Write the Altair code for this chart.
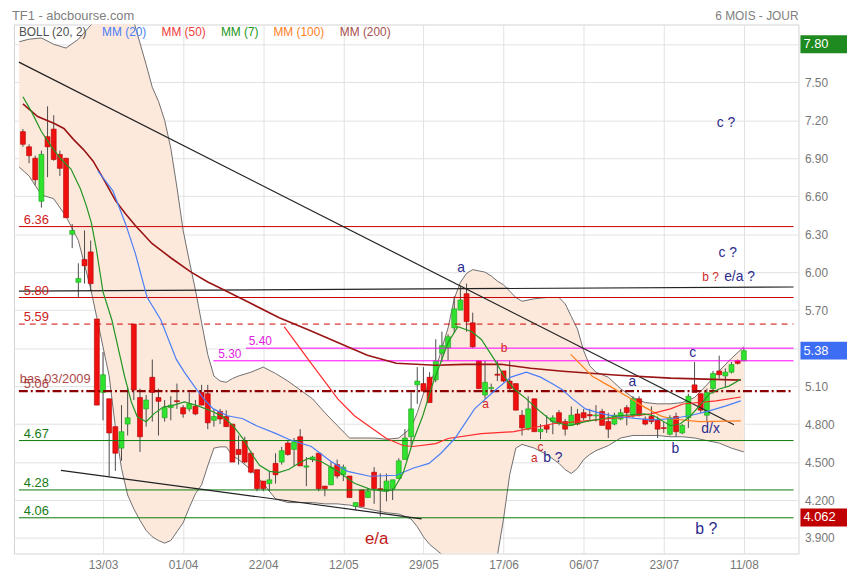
import altair as alt
import pandas as pd

FONT = "Liberation Sans"

# ---------------- data ----------------
# trading-day index: 0 = 13/03
tick_idx = [0, 13, 26, 39, 52, 65, 78, 91, 104]
tick_labels = ["13/03", "01/04", "22/04", "12/05", "29/05", "17/06", "06/07", "23/07", "11/08"]
price_ticks = [3.9, 4.2, 4.5, 4.8, 5.1, 5.4, 5.7, 6.0, 6.3, 6.6, 6.9, 7.2, 7.5, 7.8]

candle_idx = list(range(-13, 105))
opens = [7.11, 6.99, 6.90, 6.56, 7.07, 7.13, 6.93, 6.90, 6.30, 5.92, 6.10, 6.16, 5.63,
         5.05, 5.00, 4.78, 4.61, 4.80, 5.59, 5.01, 4.92, 5.17, 5.01, 4.85, 4.93, 4.985,
         4.93, 4.92, 4.94, 5.05, 5.04, 4.83, 4.90, 4.86, 4.80, 4.60, 4.67, 4.57, 4.44,
         4.35, 4.33, 4.49, 4.50, 4.65, 4.60, 4.70, 4.46, 4.52, 4.57, 4.31, 4.32, 4.48,
         4.40, 4.39, 4.15, 4.28, 4.22, 4.42, 4.29, 4.27, 4.29, 4.37, 4.52, 4.70, 5.11,
         5.12, 5.17, 5.15, 5.36, 5.40, 5.56, 5.70, 5.83, 5.60, 5.30, 5.03, 5.08, 5.194,
         5.22, 5.14, 5.12, 4.87, 4.76, 5.00, 4.74, 4.79, 4.82, 4.89, 4.82, 4.79, 4.88,
         4.89, 4.875, 4.865, 4.90, 4.82, 4.80, 4.84, 4.93, 4.87, 5.00, 4.84, 4.86, 4.83,
         4.772, 4.72, 4.86, 4.73, 4.85, 5.11, 5.04, 4.87, 5.08, 5.22, 5.18, 5.21, 5.30, 5.30]
highs = [7.13, 7.01, 6.92, 6.96, 7.31, 7.24, 6.96, 6.90, 6.38, 6.07, 6.33, 6.25, 5.63,
         5.37, 5.00, 4.78, 4.95, 5.09, 5.59, 5.08, 5.03, 5.31, 5.08, 4.99, 5.02, 5.12,
         4.95, 5.05, 4.99, 5.11, 5.11, 4.92, 4.92, 4.91, 4.80, 4.71, 4.70, 4.59, 4.44,
         4.35, 4.43, 4.57, 4.62, 4.67, 4.69, 4.76, 4.54, 4.55, 4.57, 4.31, 4.50, 4.52,
         4.48, 4.39, 4.18, 4.28, 4.29, 4.46, 4.41, 4.41, 4.36, 4.53, 4.76, 5.05, 5.25,
         5.25, 5.21, 5.47, 5.53, 5.51, 5.81, 5.89, 5.91, 5.68, 5.30, 5.30, 5.12, 5.30,
         5.22, 5.30, 5.12, 4.91, 5.02, 5.00, 4.80, 4.87, 4.87, 4.91, 4.84, 4.94, 4.92,
         4.92, 4.92, 4.95, 4.92, 4.89, 4.89, 4.92, 4.95, 5.02, 5.02, 4.86, 4.94, 4.86,
         4.82, 4.87, 4.89, 4.80, 5.04, 5.29, 5.04, 5.08, 5.22, 5.34, 5.24, 5.29, 5.31, 5.40]
lows = [6.99, 6.86, 6.69, 6.51, 6.75, 6.88, 6.76, 6.43, 6.19, 5.80, 5.91, 5.85, 4.95,
        4.83, 4.39, 4.43, 4.51, 4.71, 4.99, 4.58, 4.78, 4.82, 4.71, 4.82, 4.83, 4.92,
        4.85, 4.90, 4.87, 4.95, 4.76, 4.78, 4.80, 4.78, 4.50, 4.48, 4.49, 4.41, 4.27,
        4.27, 4.27, 4.33, 4.48, 4.55, 4.47, 4.47, 4.31, 4.50, 4.27, 4.23, 4.32, 4.37,
        4.35, 4.22, 4.12, 4.15, 4.22, 4.17, 4.07, 4.19, 4.20, 4.37, 4.52, 4.63, 4.96,
        5.05, 4.97, 5.13, 5.29, 5.30, 5.52, 5.70, 5.53, 5.40, 5.08, 5.00, 5.05, 5.14,
        5.13, 5.06, 4.91, 4.71, 4.75, 4.74, 4.68, 4.73, 4.72, 4.79, 4.71, 4.79, 4.79,
        4.83, 4.83, 4.82, 4.79, 4.69, 4.79, 4.83, 4.79, 4.85, 4.86, 4.79, 4.80, 4.69,
        4.73, 4.71, 4.70, 4.72, 4.77, 5.05, 4.89, 4.82, 5.04, 5.16, 5.09, 5.20, 5.27, 5.30]
closes = [7.01, 6.92, 6.73, 6.93, 6.99, 6.89, 6.82, 6.43, 6.33, 5.95, 6.05, 5.91, 4.95,
          5.19, 4.73, 4.57, 4.74, 4.85, 5.07, 4.70, 4.99, 5.05, 4.98, 4.93, 4.95, 4.977,
          4.88, 4.96, 4.88, 4.95, 4.81, 4.86, 4.84, 4.78, 4.50, 4.56, 4.50, 4.42, 4.29,
          4.29, 4.36, 4.40, 4.59, 4.56, 4.66, 4.47, 4.47, 4.54, 4.29, 4.29, 4.46, 4.39,
          4.46, 4.22, 4.18, 4.15, 4.27, 4.29, 4.28, 4.35, 4.36, 4.51, 4.69, 4.92, 5.14,
          5.06, 4.97, 5.30, 5.42, 5.49, 5.71, 5.78, 5.61, 5.41, 5.08, 5.13, 5.09, 5.186,
          5.14, 5.08, 4.91, 4.77, 4.92, 4.74, 4.76, 4.76, 4.85, 4.81, 4.76, 4.87, 4.80,
          4.85, 4.865, 4.872, 4.79, 4.76, 4.87, 4.89, 4.89, 5.00, 4.87, 4.80, 4.82, 4.76,
          4.765, 4.85, 4.74, 4.79, 5.02, 5.05, 4.91, 5.05, 5.20, 5.19, 5.21, 5.27, 5.28, 5.38]

# Bollinger bands (20, 2)
band_idx = [-13.6, -12, -10, -8, -6, -4, -2, -1,
            0, 1, 2, 3, 4, 5, 6, 7, 8, 9, 10, 11, 12, 13, 14, 15, 16, 17, 18, 19, 20, 21, 22,
            24, 26, 28, 30, 32, 34, 36, 38, 40, 42, 44, 46, 48, 50,
            51, 52, 53, 54, 55, 56, 57, 58, 59, 60,
            62, 63, 64, 65, 66, 67, 68,
            70, 72, 74, 75, 76, 77, 78, 79, 80,
            82, 84, 86, 88, 90, 92, 94, 96, 98, 100, 102, 104]
band_upper = [7.82, 7.84, 7.85, 7.80, 7.77, 7.84, 7.95, 8.00,
              8.05, 8.08, 8.10, 8.12, 8.08, 7.98, 7.81, 7.64, 7.46, 7.35, 7.20, 6.98, 6.67, 6.33,
              6.09, 5.86, 5.60, 5.35, 5.18, 5.14, 5.13, 5.16, 5.18,
              5.21, 5.25, 5.20, 5.14, 5.07, 5.00, 4.89, 4.79, 4.69, 4.69, 4.69, 4.68, 4.69, 4.77,
              4.89, 5.04, 5.12, 5.23, 5.40, 5.56, 5.79, 5.92, 5.99, 6.02,
              6.00, 5.97, 5.93, 5.90, 5.85, 5.80, 5.77,
              5.79, 5.80, 5.80, 5.75, 5.65, 5.55, 5.38, 5.26, 5.21,
              5.17, 5.08, 5.01, 4.97, 4.96, 4.96, 4.97, 5.01, 5.11, 5.22, 5.32, 5.41]
band_lower = [6.83, 6.76, 6.61, 6.58, 6.44, 6.25, 5.87, 5.64,
              5.41, 5.18, 4.78, 4.45, 4.24, 4.13, 4.04, 3.96, 3.91, 3.88, 3.86, 3.88, 3.95, 4.02,
              4.14, 4.25, 4.32, 4.47, 4.61, 4.62, 4.62, 4.55, 4.52,
              4.44, 4.33, 4.21, 4.18, 4.18, 4.18, 4.17, 4.17, 4.16, 4.14, 4.12, 4.10, 4.09, 4.05,
              3.99, 3.91, 3.85, 3.81, 3.77, 3.74, 3.71, 3.68, 3.66, 3.66,
              3.67, 3.71, 3.76, 4.05, 4.40, 4.61, 4.64,
              4.61, 4.56, 4.49, 4.44, 4.41, 4.45, 4.52, 4.56, 4.59,
              4.63, 4.69, 4.71, 4.71, 4.71, 4.70, 4.70, 4.69, 4.67, 4.65, 4.61, 4.58]

# moving averages
mm7_idx = [-13.0, -11.6, -10.0, -8.4, -6.8, -5.2, -3.65, -2.7, -1.9, -1.1, 0, 1.43, 2.4, 3.5,
           4.6, 5.56, 7.0, 8.25, 9.84, 11.1, 13.2, 15.4, 17.5, 19.5, 21.1, 22.7, 24.3, 25.4,
           27.0, 28.6, 30.2, 31.75, 33.3, 35.4, 38.1, 40.8, 43.3, 45.6, 47.1, 48.7, 50.3,
           51.9, 53.5, 56.0, 57.6, 59.8, 61.4, 63.5, 65.1, 66.7, 68.7, 71.0, 73.0, 75.7,
           78.3, 81.0, 83.65, 85.7, 87.8, 89.4, 92.1, 93.7, 95.2, 96.8, 98.4, 100.0, 101.6, 103.5]
mm7_val = [7.385, 7.268, 7.111, 6.994, 6.892, 6.814, 6.657, 6.524, 6.391, 6.188, 5.844, 5.624,
           5.413, 5.178, 4.975, 4.858, 4.819, 4.881, 4.936, 4.944, 4.975, 4.944, 4.905, 4.858,
           4.787, 4.686, 4.552, 4.474, 4.427, 4.419, 4.443, 4.490, 4.529, 4.505, 4.427, 4.333,
           4.287, 4.271, 4.279, 4.412, 4.662, 4.866, 5.116, 5.445, 5.570, 5.531, 5.468, 5.311,
           5.178, 5.077, 4.999, 4.897, 4.819, 4.787, 4.819, 4.842, 4.866, 4.873, 4.881, 4.866,
           4.787, 4.803, 4.858, 4.944, 5.038, 5.077, 5.100, 5.155]

mm20_idx = [-0.8, 1.6, 3.65, 5.24, 7.14, 9.37, 11.9, 13.2, 14.8, 16.35, 17.9, 20.2, 22.7,
            24.9, 28.1, 30.2, 33.8, 37.0, 39.7, 43.3, 47.6, 50.3, 52.9, 54.8, 57.1, 60.3,
            63.5, 66.2, 68.7, 71.0, 73.0, 74.6, 76.2, 78.3, 81.0, 83.65, 88.9, 92.1, 95.2,
            98.4, 101.1, 103.5]
mm20_val = [6.798, 6.642, 6.383, 6.149, 5.804, 5.624, 5.311, 5.210, 5.100, 4.999, 4.920, 4.866,
            4.842, 4.787, 4.725, 4.678, 4.623, 4.505, 4.427, 4.388, 4.396, 4.451, 4.490, 4.568,
            4.686, 4.920, 5.061, 5.171, 5.210, 5.171, 5.116, 5.069, 4.999, 4.920, 4.881, 4.858,
            4.834, 4.842, 4.866, 4.905, 4.944, 4.983]

mm50_idx = [29.4, 33.3, 38.1, 40.8, 43.3, 46.0, 48.7, 50.3, 54.0, 56.0, 61.4, 66.7, 73.0,
            78.3, 83.65, 88.9, 92.1, 94.1, 99.5, 103.5]
mm50_val = [5.570, 5.312, 4.999, 4.866, 4.779, 4.686, 4.631, 4.623, 4.646, 4.686, 4.725, 4.740,
            4.803, 4.826, 4.850, 4.881, 4.920, 4.959, 4.983, 5.014]

mm100_idx = [75.9, 79.4, 82.5, 85.2, 87.8, 90.5, 92.1, 96.8, 103.5]
mm100_val = [5.351, 5.178, 5.092, 5.014, 4.936, 4.865, 4.842, 4.819, 4.826]

mm200_idx = [-13.0, -10.6, -7.9, -6.35, -4.8, -3.2, -1.6, 0, 2.06, 3.65, 5.24, 7.94, 11.1, 14.3,
             17.0, 19.0, 23.8, 28.6, 33.3, 38.1, 42.9, 47.6, 54.0, 58.7, 64.6, 69.4, 74.6,
             83.65, 92.1, 103.5]
mm200_val = [7.330, 7.229, 7.174, 7.135, 7.049, 6.970, 6.877, 6.743, 6.563, 6.462, 6.368, 6.227,
             6.110, 6.000, 5.922, 5.875, 5.758, 5.640, 5.546, 5.445, 5.343, 5.280, 5.265, 5.272,
             5.272, 5.241, 5.218, 5.186, 5.163, 5.147]

# horizontal support / resistance levels
red_levels = [6.36, 5.80]
dashed_levels = [5.59]
magenta_levels = [5.40, 5.30]
magenta_start = [23.2, 17.9]
low2009_level = [5.06]
green_levels = [4.67, 4.28, 4.06]

# black trend lines (two end points each)
trend_id = ["t1", "t1", "t2", "t2", "t3", "t3"]
trend_idx = [-13.65, 102.4, -6.83, 51.7, -13.65, 112.06]
trend_val = [7.659, 4.795, 4.435, 4.052, 5.851, 5.883]

# wave annotations
ann_text = ["a", "b", "a", "c", "a", "b ?", "a", "b", "c", "d/x", "c ?", "c ?", "b ?", "e/a ?", "b ?", "e/a"]
ann_idx = [58.1, 65.1, 62.1, 71.0, 70.0, 73.0, 85.9, 92.9, 95.7, 98.6, 101.1, 101.4, 98.6, 103.3, 97.9, 44.4]
ann_val = [6.03, 5.40, 4.96, 4.62, 4.53, 4.53, 5.13, 4.60, 5.36, 4.76, 7.18, 6.15, 5.96, 5.96, 3.97, 3.895]
ann_kind = ["navy", "red", "red", "red", "red", "navy", "navy", "navy", "navy", "navy", "navy",
            "navy", "red", "navy", "navyL", "redL"]

# value boxes on the price axis
box_values = [7.80, 5.38, 4.062]
box_labels = ["7.80", "5.38", "4.062"]

# ---------------- chart ----------------
W, H = 792, 534
xs = alt.Scale(domain=[-13.65, 112.06], nice=False, zero=False)
ys = alt.Scale(domain=[3.778, 7.956], nice=False, zero=False)

label_expr = " : ".join(
    f"datum.value == {i} ? '{t}'" for i, t in zip(tick_idx, tick_labels)) + " : ''"

x_axis = alt.Axis(values=tick_idx, labelExpr=label_expr, grid=True, gridColor="#e2e2e2",
                  ticks=False, domain=False, labelColor="#777777", labelFont=FONT,
                  labelFontSize=12, labelPadding=6, title=None, labelOverlap=False,
                  labelFlush=False)
y_axis = alt.Axis(values=price_ticks, orient="right", grid=True, gridColor="#e2e2e2",
                  ticks=False, domain=False, labelColor="#777777", labelFont=FONT,
                  labelFontSize=12, labelPadding=6, title=None, labelOverlap=False,
                  labelFlush=False,
                  labelExpr="datum.value >= 5 ? format(datum.value, '.2f') : format(datum.value, '.3f')")


def X(f):
    return alt.X(f, type="quantitative", scale=xs, axis=x_axis)


def Y(f):
    return alt.Y(f, type="quantitative", scale=ys, axis=y_axis)


candles = pd.DataFrame({"i": candle_idx, "o": opens, "h": highs, "l": lows, "c": closes})
band = pd.DataFrame({"i": band_idx, "u": band_upper, "lo": band_lower})

band_area = alt.Chart(band).mark_area(clip=True, color="#fde8dc").encode(
    x=X("i"), y=Y("u"), y2="lo")
band_up = alt.Chart(band).mark_line(clip=True, color="#6e6e6e", strokeWidth=1).encode(
    x=X("i"), y=Y("u"))
band_lo = alt.Chart(band).mark_line(clip=True, color="#6e6e6e", strokeWidth=1).encode(
    x=X("i"), y=Y("lo"))

# candles
wicks = alt.Chart(candles).mark_rule(color="#4a4a4a", strokeWidth=1).encode(
    x=X("i"), y=Y("l"), y2="h")
is_up = "datum.c >= datum.o"
bodies = alt.Chart(candles).mark_bar(size=5, strokeWidth=0.6).encode(
    x=X("i"), y=Y("o"), y2="c",
    fill=alt.condition(is_up, alt.value("#2ee22e"), alt.value("#f01010")),
    stroke=alt.condition(is_up, alt.value("#1ca01c"), alt.value("#b00000")))


def level_rules(values, color, start=None, dash=None, width=1.0):
    df = pd.DataFrame({"v": values,
                       "s": start if start is not None else [-13.65] * len(values),
                       "e": [112.06] * len(values)})
    kw = dict(color=color, strokeWidth=width)
    if dash:
        kw["strokeDash"] = dash
    return alt.Chart(df).mark_rule(**kw).encode(x=X("s"), x2="e", y=Y("v"))


lv_red = level_rules(red_levels, "#c80000")
lv_dash = level_rules(dashed_levels, "#d00000", dash=[6, 5])
lv_mag = level_rules(magenta_levels, "#ff00ff", start=magenta_start)
lv_low = level_rules(low2009_level, "#8b0000", dash=[9, 3, 2, 3], width=2.2)
lv_green = level_rules(green_levels, "#0a7a0a")

trends = alt.Chart(pd.DataFrame({"g": trend_id, "i": trend_idx, "v": trend_val})).mark_line(
    color="#222222", strokeWidth=1.2, clip=True).encode(x=X("i"), y=Y("v"), detail="g:N")


def ma(idx, val, color, width=1.0):
    return alt.Chart(pd.DataFrame({"i": idx, "v": val})).mark_line(
        color=color, strokeWidth=width, clip=True).encode(x=X("i"), y=Y("v"))


ma200 = ma(mm200_idx, mm200_val, "#9a1414", 1.6)
ma100 = ma(mm100_idx, mm100_val, "#ff7f1e", 1.2)
ma50 = ma(mm50_idx, mm50_val, "#ff2a2a", 1.2)
ma20 = ma(mm20_idx, mm20_val, "#4a7ff5", 1.2)
ma7 = ma(mm7_idx, mm7_val, "#229622", 1.2)

# level labels
lvl_text = pd.DataFrame({
    "v": [6.36, 5.80, 5.59, 4.67, 4.28, 4.06],
    "t": ["6.36", "5.80", "5.59", "4.67", "4.28", "4.06"],
    "k": ["r", "r", "r", "g", "g", "g"],
})
lvl_text["i"] = -12.86
lvl_labels = alt.Chart(lvl_text).mark_text(
    align="left", baseline="alphabetic", dy=-3, font=FONT, fontSize=13).encode(
    x=X("i"), y=Y("v"), text="t:N",
    color=alt.Color("k:N", scale=alt.Scale(domain=["r", "g"], range=["#cc2020", "#157a15"]),
                    legend=None))
mag_labels = alt.Chart(pd.DataFrame({"v": magenta_levels, "i": [23.65, 18.7],
                                     "t": ["5.40", "5.30"]})).mark_text(
    align="left", baseline="alphabetic", dy=-3, font=FONT, fontSize=12, color="#e020e0").encode(
    x=X("i"), y=Y("v"), text="t:N")
low_lbl1 = alt.Chart(pd.DataFrame({"v": low2009_level, "i": [-13.5], "t": ["bas 03/2009"]})).mark_text(
    align="left", baseline="alphabetic", dy=-8, font=FONT, fontSize=13, color="#a02828",
    opacity=0.85).encode(x=X("i"), y=Y("v"), text="t:N")
low_lbl2 = alt.Chart(pd.DataFrame({"v": low2009_level, "i": [-12.86], "t": ["5.06"]})).mark_text(
    align="left", baseline="alphabetic", dy=-3, font=FONT, fontSize=13, color="#a02828",
    opacity=0.85).encode(x=X("i"), y=Y("v"), text="t:N")

# wave annotations
ann = pd.DataFrame({"t": ann_text, "i": ann_idx, "v": ann_val, "k": ann_kind})
ann_layers = []
for kind, color, size in [("navy", "#2b2b8e", 14), ("red", "#d02828", 12),
                          ("navyL", "#2b2b8e", 16), ("redL", "#c01818", 17)]:
    ann_layers.append(
        alt.Chart(ann[ann.k == kind]).mark_text(font=FONT, fontSize=size, color=color,
                                                baseline="middle", align="center").encode(
            x=X("i"), y=Y("v"), text="t:N"))

# value boxes on the right axis
boxes_df = pd.DataFrame({"v": box_values, "t": box_labels, "k": ["hi", "last", "lo"]})
box_colors = alt.Scale(domain=["hi", "last", "lo"], range=["#1f8a1f", "#3d6df2", "#c00000"])
boxes = alt.Chart(boxes_df).mark_rect(yOffset=-9, y2Offset=9).encode(
    x=alt.value(W + 2), x2=alt.value(W + 50), y=Y("v"), y2="v",
    fill=alt.Color("k:N", scale=box_colors, legend=None))
box_text = alt.Chart(boxes_df).mark_text(align="left", baseline="middle", font=FONT,
                                         fontSize=13, color="white").encode(
    x=alt.value(W + 5), y=Y("v"), text="t:N")

# title + legend row
dummy = pd.DataFrame({"z": [0]})
title_l = alt.Chart(dummy).mark_text(align="left", baseline="alphabetic", font=FONT,
                                     fontSize=13, color="#808080").encode(
    x=alt.value(-2), y=alt.value(-5), text=alt.value("TF1 - abcbourse.com"))
title_r = alt.Chart(dummy).mark_text(align="right", baseline="alphabetic", font=FONT,
                                     fontSize=12, color="#808080").encode(
    x=alt.value(W), y=alt.value(-5), text=alt.value("6 MOIS - JOUR"))
legend_items = [(5, "BOLL (20, 2)", "#505050"), (89, "MM (20)", "#4a7ff5"),
                (149, "MM (50)", "#f03c3c"), (209, "MM (7)", "#229622"),
                (262, "MM (100)", "#ff7f27"), (329, "MM (200)", "#a85050")]
legend_layers = [
    alt.Chart(dummy).mark_text(align="left", baseline="alphabetic", font=FONT, fontSize=12,
                               color=c).encode(x=alt.value(px), y=alt.value(12), text=alt.value(t))
    for px, t, c in legend_items]

chart = alt.layer(
    band_area, band_up, band_lo,
    wicks, bodies,
    lv_red, lv_dash, lv_mag, lv_low, lv_green, trends,
    ma200, ma100, ma50, ma20, ma7,
    lvl_labels, mag_labels, low_lbl1, low_lbl2,
    *ann_layers, boxes, box_text, title_l, title_r, *legend_layers,
).properties(
    width=W, height=H, autosize="none",
    padding={"left": 6, "top": 14, "right": 49, "bottom": 16},
    background="white",
).configure_view(stroke="#d2d2d2", strokeWidth=1)

chart.save("out.html", embed_options={"renderer": "svg", "actions": False})
